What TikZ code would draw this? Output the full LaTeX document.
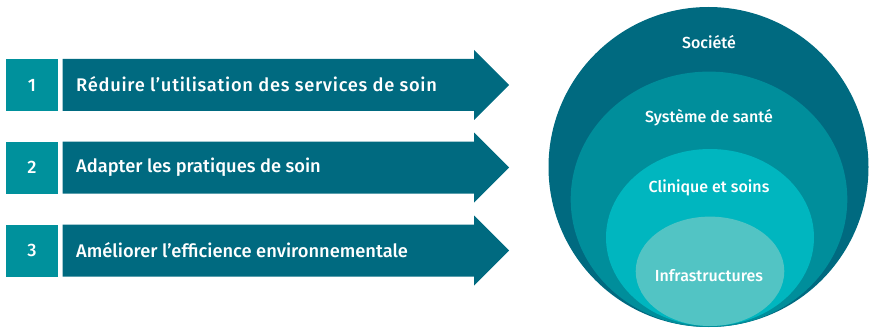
\documentclass[tikz,border=0pt]{standalone}
\usepackage{fontspec}
\setmainfont{Fira Sans}[UprightFont=* Medium]
\definecolor{arrowc}{HTML}{006A80}
\definecolor{numc}{HTML}{00919C}
\definecolor{ringA}{HTML}{006A80}
\definecolor{ringB}{HTML}{008E9B}
\definecolor{ringC}{HTML}{00B6BF}
\definecolor{ringD}{HTML}{52C4C4}
\tikzset{
  numbox/.style={fill=numc, minimum width=52pt, minimum height=52pt, inner sep=0pt, text=white, font=\fontsize{18}{18}\selectfont},
  arrtext/.style={anchor=west, text=white, inner sep=0pt, font=\fontsize{18.3}{16}\selectfont},
  ringtext/.style={text=white, inner sep=0pt, font=\fontsize{16}{16}\selectfont},
}
\begin{document}
\begin{tikzpicture}[x=1pt,y=-1pt]
\useasboundingbox (0,0) rectangle (871,329);
% arrows
\foreach \cy/\i in {85/1,167.5/2,250.5/3}{
  \fill[arrowc] (62.7,\cy-26) -- (474,\cy-26) -- (474,\cy-35) -- (509,\cy) -- (474,\cy+35) -- (474,\cy+26) -- (62.7,\cy+26) -- cycle;
}
\node[numbox] (n1) at (32,85) {1};
\node[numbox] (n2) at (32,167.5) {2};
\node[numbox] (n3) at (32,250.5) {3};
\node[arrtext] (t1) at (76,84.5) {\addfontfeature{LetterSpace=3.9}Réduire l’utilisation des services de soin};
\node[arrtext] (t2) at (76,167) {Adapter les pratiques de soin};
\node[arrtext] (t3) at (76,250) {Améliorer l’efficience environnementale};
% rings
\fill[ringA] (708.5,167) circle (160);
\fill[ringB] (709,199.3) ellipse [x radius=138.3, y radius=127.7];
\fill[ringC] (710,237.5) ellipse [x radius=104, y radius=88.5];
\fill[ringD] (710,271.3) ellipse [x radius=74.3, y radius=54.7];
\node[ringtext] (r1) at (709,42) {Société};
\node[ringtext] (r2) at (709,118) {Système de santé};
\node[ringtext] (r3) at (709,188) {Clinique et soins};
\node[ringtext] (r4) at (709,276) {Infrastructures};
\end{tikzpicture}
\end{document}
